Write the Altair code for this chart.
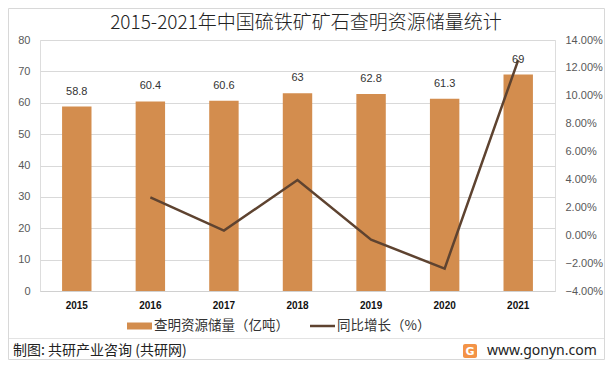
import altair as alt
import pandas as pd

years = ["2015", "2016", "2017", "2018", "2019", "2020", "2021"]
reserves = [58.8, 60.4, 60.6, 63.0, 62.8, 61.3, 69.0]
growth = [None, 2.72, 0.33, 3.96, -0.32, -2.39, 12.56]

df = pd.DataFrame({"year": years, "reserve": reserves, "growth": growth})

W, H = 515, 251
BAR_C = "#D38D4E"
LINE_C = "#5E4330"
FONT = "Noto Sans CJK SC"

x = alt.X("year:N", title=None,
          scale=alt.Scale(paddingInner=0.6, paddingOuter=0.3),
          axis=alt.Axis(labelAngle=0, labelFontSize=10, labelColor="#111111", labelFont="Liberation Sans",
                        labelFontWeight="bold",
                        ticks=False, domain=True, domainColor="#d0d0d0", labelPadding=9))

yscale = alt.Scale(domain=[0, 80], nice=False)
yaxis = alt.Axis(values=[0, 10, 20, 30, 40, 50, 60, 70, 80], labelOverlap=False,
                 ticks=False, domain=False,
                 gridColor="#d9d9d9", labelColor="#595959", labelFontSize=11,
                 labelFont="Liberation Sans", labelPadding=10)

bars = alt.Chart(df).mark_bar(color=BAR_C).encode(
    x=x,
    y=alt.Y("reserve:Q", title=None, scale=yscale, axis=yaxis),
)

bar_labels = alt.Chart(df).mark_text(dy=-15, fontSize=11, color="#333333", font="Liberation Sans").encode(
    x=alt.X("year:N"),
    y=alt.Y("reserve:Q", title=None, scale=yscale, axis=None),
    text=alt.Text("reserve:Q", format=".3~f"),
)

line = alt.Chart(df).transform_filter("datum.growth != null").mark_line(color=LINE_C, strokeWidth=2.5).encode(
    x=alt.X("year:N"),
    y=alt.Y("growth:Q", title=None, scale=alt.Scale(domain=[-4, 14], nice=False),
            axis=alt.Axis(orient="right", values=[-4, -2, 0, 2, 4, 6, 8, 10, 12, 14], ticks=False,
                          labelOverlap=False,
                          domain=False, grid=False, labelColor="#595959", labelFontSize=11,
                          labelFont="Liberation Sans", labelPadding=10,
                          labelExpr="format(datum.value, '.2f') + '%'")),
)

main = alt.layer(bars, line, bar_labels).resolve_scale(y="independent")

one = pd.DataFrame({"k": [0]})

# legend (manual, below plot)
legend_y = H + 35
leg_rect = alt.Chart(one).mark_rect(color=BAR_C).encode(
    x=alt.value(87), x2=alt.value(112), y=alt.value(legend_y - 3.5), y2=alt.value(legend_y + 3.5))
leg_rect_txt = alt.Chart(pd.DataFrame({"k": ["查明资源储量（亿吨）"]})).mark_text(
    align="left", baseline="middle", fontSize=13.5, font=FONT, color="#333333").encode(
    x=alt.value(114), y=alt.value(legend_y), text="k:N")
leg_line = alt.Chart(one).mark_rule(color=LINE_C, strokeWidth=2.5).encode(
    x=alt.value(270), x2=alt.value(295), y=alt.value(legend_y))
leg_line_txt = alt.Chart(pd.DataFrame({"k": ["同比增长（%）"]})).mark_text(
    align="left", baseline="middle", fontSize=13.5, font=FONT, color="#333333").encode(
    x=alt.value(297), y=alt.value(legend_y), text="k:N")

# footer
footer_y = H + 60
sep = alt.Chart(one).mark_rule(color="#e3e3e3", strokeWidth=1).encode(
    x=alt.value(-31.5), x2=alt.value(W + 49.5), y=alt.value(H + 47.5))
foot_l = alt.Chart(pd.DataFrame({"k": ["制图: 共研产业咨询 (共研网)"]})).mark_text(
    align="left", baseline="middle", fontSize=14, font=FONT, color="#222222").encode(
    x=alt.value(-27), y=alt.value(footer_y), text="k:N")
logo = alt.Chart(one).mark_rect(color="#F39347", cornerRadius=2).encode(
    x=alt.value(423), x2=alt.value(437), y=alt.value(footer_y - 7), y2=alt.value(footer_y + 7))
logo_g = alt.Chart(pd.DataFrame({"k": ["G"]})).mark_text(
    align="center", baseline="middle", fontSize=11, font="DejaVu Sans", fontWeight="bold", color="white").encode(
    x=alt.value(430), y=alt.value(footer_y + 0.5), text="k:N")
foot_r = alt.Chart(pd.DataFrame({"k": ["www.gonyn.com"]})).mark_text(
    align="left", baseline="middle", fontSize=14, font="Noto Sans", color="#222222").encode(
    x=alt.value(447), y=alt.value(footer_y), text="k:N")
frame = alt.Chart(one).mark_rect(fill=None, stroke="#d8d8d8", strokeWidth=1).encode(
    x=alt.value(-31.5), x2=alt.value(W + 49.5), y=alt.value(-31.5), y2=alt.value(H + 68.5))

title_txt = alt.Chart(pd.DataFrame({"k": ["2015-2021年中国硫铁矿矿石查明资源储量统计"]})).mark_text(
    align="center", baseline="middle", fontSize=19, font=FONT, fontWeight=300, color="#222222").encode(
    x=alt.value(266), y=alt.value(-17), text="k:N")

deco = alt.layer(leg_rect, leg_rect_txt, leg_line, leg_line_txt, sep, foot_l, logo, logo_g, foot_r, frame, title_txt)

chart = alt.layer(main, deco).properties(
    width=W, height=H,
    padding={"left": 32, "top": 32, "right": 50, "bottom": 69},
    autosize=alt.AutoSizeParams(type="none"),
).configure_view(stroke=None).configure(background="white")

chart.save("out.html", embed_options={"renderer": "svg", "actions": False})
